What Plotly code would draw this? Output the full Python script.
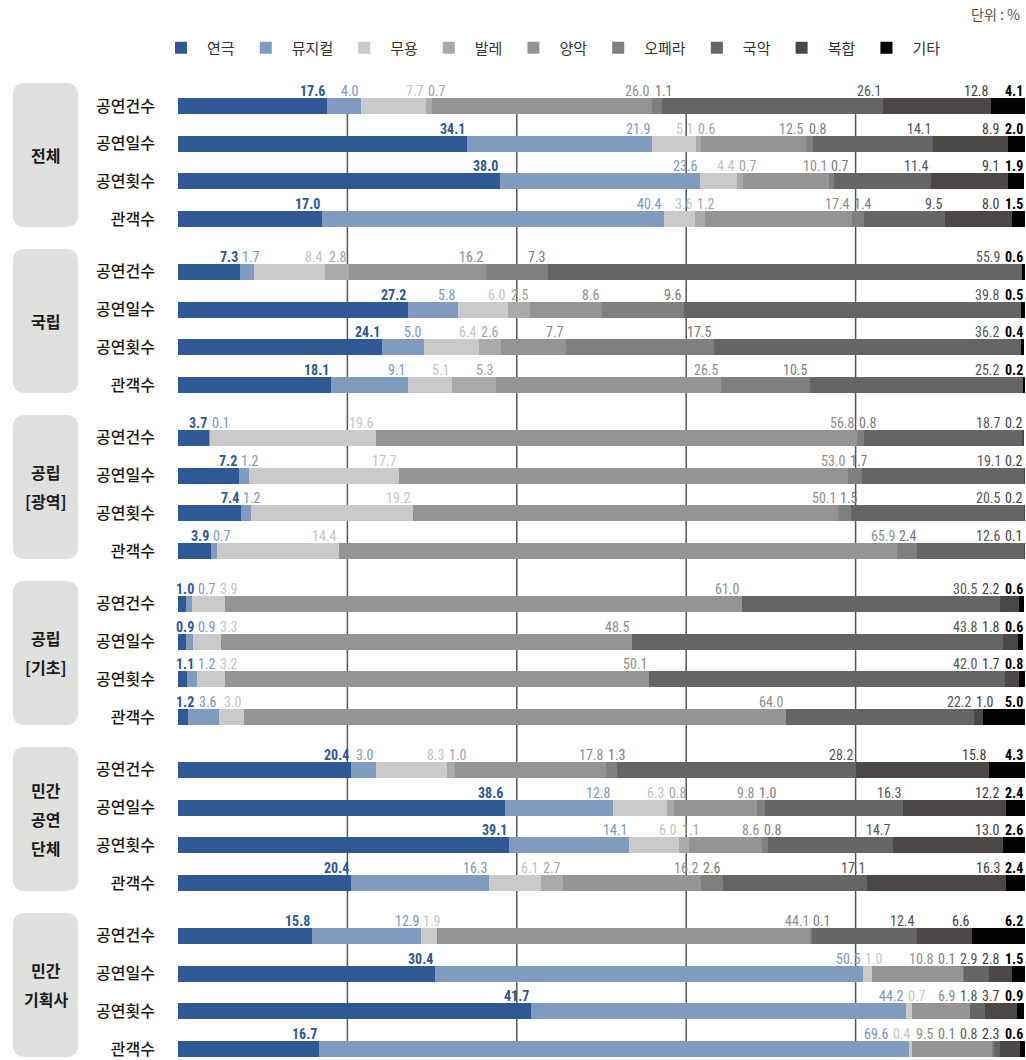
import plotly.graph_objects as go

# ---------------- data ----------------
series_names = ["연극", "뮤지컬", "무용", "발레", "양악", "오페라", "국악", "복합", "기타"]
row_labels = ["공연건수", "공연일수", "공연횟수", "관객수"]
group_labels = [["전체"], ["국립"], ["공립", "[광역]"], ["공립", "[기초]"],
                ["민간", "공연", "단체"], ["민간", "기획사"]]

# each row: 연극, 뮤지컬, 무용, 발레, 양악, 오페라, 국악, 복합, 기타  (unit: %)
total = [
    [17.6, 4.0, 7.7, 0.7, 26.0, 1.1, 26.1, 12.8, 4.1],
    [34.1, 21.9, 5.1, 0.6, 12.5, 0.8, 14.1, 8.9, 2.0],
    [38.0, 23.6, 4.4, 0.7, 10.1, 0.7, 11.4, 9.1, 1.9],
    [17.0, 40.4, 3.6, 1.2, 17.4, 1.4, 9.5, 8.0, 1.5],
]
national = [
    [7.3, 1.7, 8.4, 2.8, 16.2, 7.3, 55.9, 0, 0.6],
    [27.2, 5.8, 6.0, 2.5, 8.6, 9.6, 39.8, 0, 0.5],
    [24.1, 5.0, 6.4, 2.6, 7.7, 17.5, 36.2, 0, 0.4],
    [18.1, 9.1, 5.1, 5.3, 26.5, 10.5, 25.2, 0, 0.2],
]
public_metro = [
    [3.7, 0.1, 19.6, 0, 56.8, 0.8, 18.7, 0.2, 0],
    [7.2, 1.2, 17.7, 0, 53.0, 1.7, 19.1, 0.2, 0],
    [7.4, 1.2, 19.2, 0, 50.1, 1.5, 20.5, 0.2, 0],
    [3.9, 0.7, 14.4, 0, 65.9, 2.4, 12.6, 0.1, 0],
]
public_local = [
    [1.0, 0.7, 3.9, 0, 61.0, 0, 30.5, 2.2, 0.6],
    [0.9, 0.9, 3.3, 0, 48.5, 0, 43.8, 1.8, 0.6],
    [1.1, 1.2, 3.2, 0, 50.1, 0, 42.0, 1.7, 0.8],
    [1.2, 3.6, 3.0, 0, 64.0, 0, 22.2, 1.0, 5.0],
]
private_troupe = [
    [20.4, 3.0, 8.3, 1.0, 17.8, 1.3, 28.2, 15.8, 4.3],
    [38.6, 12.8, 6.3, 0.8, 9.8, 1.0, 16.3, 12.2, 2.4],
    [39.1, 14.1, 6.0, 1.1, 8.6, 0.8, 14.7, 13.0, 2.6],
    [20.4, 16.3, 6.1, 2.7, 16.2, 2.6, 17.1, 16.3, 2.4],
]
private_agency = [
    [15.8, 12.9, 1.9, 0, 44.1, 0.1, 12.4, 6.6, 6.2],
    [30.4, 50.5, 1.0, 0, 10.8, 0.1, 2.9, 2.8, 1.5],
    [41.7, 44.2, 0.7, 0, 6.9, 0, 1.8, 3.7, 0.9],
    [16.7, 69.6, 0.4, 0, 9.5, 0.1, 0.8, 2.3, 0.6],
]
groups_data = [total, national, public_metro, public_local, private_troupe, private_agency]

grid_values = [20, 40, 60, 80]

# ---------------- styles ----------------
bar_colors = ["#2e5994", "#819bc0", "#c9cac9", "#aaaaaa", "#949494",
              "#7f7f7f", "#656565", "#4b4747", "#000000"]
text_colors = ["#2e5994", "#7b97c0", "#c4c5c4", "#a3a3a3", "#8e8e8e",
               "#7a7a7a", "#555555", "#3d3d3d", "#000000"]
text_bold = [True, False, False, False, False, False, False, False, True]

W, H = 1026, 1060
M_L, M_R, M_T, M_B = 178, 1, 75, 0
PLOT_W = W - M_L - M_R
PLOT_H = H - M_T - M_B
GROUP_STEP = 4.4
UNIT_PX = 37.84
Y_TOP = -(106 - M_T) / UNIT_PX
Y_BOT = Y_TOP + PLOT_H / UNIT_PX
PX = PLOT_W / 100.0

LABEL_FONT = "Liberation Sans Narrow, Roboto Condensed, Arial Narrow, Roboto, sans-serif"
KR_FONT = "Noto Sans CJK KR, Noto Sans, sans-serif"

# y positions for every row
positions, ticktext = [], []
for g in range(len(groups_data)):
    for r in range(len(row_labels)):
        positions.append(g * GROUP_STEP + r)
        ticktext.append(row_labels[r])

fig = go.Figure()
for j, name in enumerate(series_names):
    xs = [groups_data[g][r][j] for g in range(len(groups_data)) for r in range(len(row_labels))]
    fig.add_trace(go.Bar(
        x=xs, y=positions, orientation="h", name=name,
        marker=dict(color=bar_colors[j], line=dict(width=0)),
        width=0.42, hovertemplate=name + ": %{x}%<extra></extra>",
    ))


def est_width(s, bold=False):
    d = 7.2 if bold else 6.9
    return sum(d if ch.isdigit() else 3.4 for ch in s)


annotations = []
GAP = 5
for g, gdata in enumerate(groups_data):
    for r, vals in enumerate(gdata):
        ypos = g * GROUP_STEP + r
        items = []
        cum = 0.0
        for j, v in enumerate(vals):
            cum += v
            if v > 0:
                txt = f"{v:.1f}"
                items.append({"j": j, "txt": txt, "cum": min(cum, 100.0),
                              "w": est_width(txt, text_bold[j])})
        rights = [it["cum"] * PX for it in items]
        # forward pass (push right)
        for i in range(len(items)):
            if i == 0:
                rights[0] = max(rights[0], items[0]["w"])
            else:
                if rights[i] - items[i]["w"] < rights[i - 1] + GAP:
                    rights[i] = rights[i - 1] + GAP + items[i]["w"]
        # backward pass (clamp to right edge)
        if rights and rights[-1] > PLOT_W:
            rights[-1] = PLOT_W
        for i in range(len(items) - 2, -1, -1):
            lim = rights[i + 1] - items[i + 1]["w"] - GAP
            if rights[i] > lim:
                rights[i] = lim
        for it, rp in zip(items, rights):
            j = it["j"]
            annotations.append(dict(
                x=it["cum"], y=ypos, xref="x", yref="y",
                xanchor="right", yanchor="middle",
                xshift=rp - it["cum"] * PX, yshift=15,
                text=it["txt"], showarrow=False,
                font=dict(family=LABEL_FONT, size=14, color=text_colors[j],
                          weight="bold" if text_bold[j] else "normal"),
            ))

shapes = []
# gridlines
for gv in grid_values:
    shapes.append(dict(type="line", xref="x", yref="y", x0=gv, x1=gv,
                       y0=0.21, y1=Y_BOT + 1, line=dict(color="#555555", width=1.5),
                       layer="below"))

# group boxes + labels
bx0 = (13 - M_L) / PLOT_W
bx1 = (78 - M_L) / PLOT_W
rx = 12 / PLOT_W
ry = 12 / UNIT_PX
for g, lines in enumerate(group_labels):
    first = g * GROUP_STEP
    last = g * GROUP_STEP + len(row_labels) - 1
    y0 = first - 23 / UNIT_PX
    y1 = last + 8 / UNIT_PX
    path = (f"M {bx0 + rx},{y0} L {bx1 - rx},{y0} Q {bx1},{y0} {bx1},{y0 + ry} "
            f"L {bx1},{y1 - ry} Q {bx1},{y1} {bx1 - rx},{y1} "
            f"L {bx0 + rx},{y1} Q {bx0},{y1} {bx0},{y1 - ry} "
            f"L {bx0},{y0 + ry} Q {bx0},{y0} {bx0 + rx},{y0} Z")
    shapes.append(dict(type="path", xref="paper", yref="y", path=path,
                       fillcolor="#e0e0df", line=dict(width=0), layer="below"))
    yc = (y0 + y1) / 2
    n = len(lines)
    for i, ln in enumerate(lines):
        annotations.append(dict(
            x=(bx0 + bx1) / 2, y=yc, xref="paper", yref="y",
            xanchor="center", yanchor="middle", yshift=((n - 1) / 2 - i) * 29,
            text=ln, showarrow=False,
            font=dict(family=KR_FONT, size=16, color="#1a1a1a", weight="bold"),
        ))

# unit note
annotations.append(dict(
    x=1, y=1 + (M_T - 14) / PLOT_H, xref="paper", yref="paper",
    xanchor="right", yanchor="middle", xshift=-3, text="단위 : %", showarrow=False,
    font=dict(family=KR_FONT, size=14, color="#555555"),
))

fig.update_layout(
    width=W, height=H,
    margin=dict(l=M_L, r=M_R, t=M_T, b=M_B, pad=0),
    barmode="stack",
    plot_bgcolor="white", paper_bgcolor="white",
    showlegend=True,
    legend=dict(orientation="h", x=-23 / PLOT_W, xanchor="left",
                y=1 + (M_T - 48) / PLOT_H, yanchor="middle",
                font=dict(family=KR_FONT, size=15, color="#333333"),
                itemwidth=42, traceorder="normal", bgcolor="rgba(0,0,0,0)"),
    xaxis=dict(range=[0, 100], showgrid=False, zeroline=False, showticklabels=False,
               showline=False, fixedrange=True),
    yaxis=dict(range=[Y_BOT, Y_TOP], tickvals=positions, ticktext=ticktext,
               showgrid=False, zeroline=False, showline=False, ticks="",
               ticklabelstandoff=22, ticklabeloverflow="allow", fixedrange=True,
               tickfont=dict(family=KR_FONT, size=16, color="#1a1a1a", weight=500)),
    shapes=shapes,
    annotations=annotations,
    font=dict(family=KR_FONT),
)

fig.write_html("out.html", config={"displayModeBar": False},
               post_script="document.body.style.margin='0';")
